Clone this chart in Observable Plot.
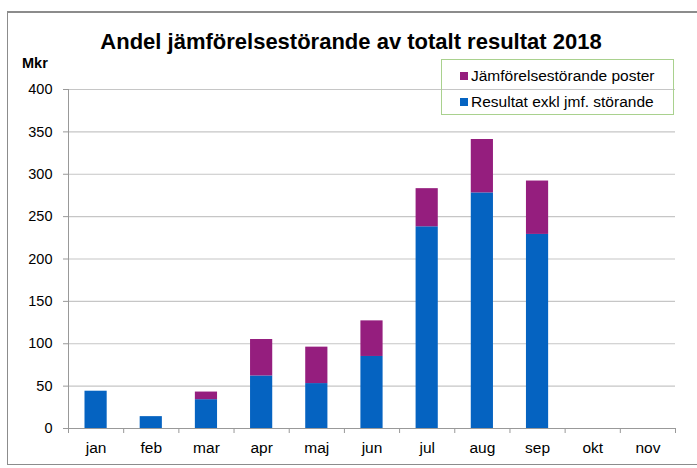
<!DOCTYPE html>
<html>
<head>
<meta charset="utf-8">
<script src="https://cdn.jsdelivr.net/npm/d3@7"></script>
<script src="https://cdn.jsdelivr.net/npm/@observablehq/plot@0.6"></script>
<style>
  html, body { margin: 0; padding: 0; background: #fff; }
  #wrap { position: relative; width: 697px; height: 468px; overflow: hidden; font-family: "Liberation Sans", Arial, sans-serif; }
  #frame { position: absolute; left: 7px; top: 11px; width: 697px; height: 454px; border: 1px solid #8c8c8c; border-top-width: 2px; box-sizing: border-box; }
  #title { position: absolute; left: 0; width: 702px; top: 29px; line-height: 25px; text-align: center; font-weight: bold; font-size: 22px; color: #000; }
  #unit { position: absolute; left: 22px; top: 55px; font-weight: bold; font-size: 14.5px; color: #000; }
  #legend { position: absolute; left: 441px; top: 59px; width: 233px; height: 56px; border: 1px solid #a9d18e; box-sizing: border-box; background: transparent; font-size: 15.5px; color: #000; }
  .row { position: absolute; left: 18px; height: 18px; line-height: 18px; display: flex; align-items: center; white-space: nowrap; }
  .sw { width: 8px; height: 8px; margin-right: 3px; }
  #chart { position: absolute; left: 0; top: 0; }
</style>
</head>
<body>
<div id="wrap">
  <div id="frame"></div>
  <div id="chart"></div>
  <div id="title">Andel jämförelsestörande av totalt resultat 2018</div>
  <div id="unit">Mkr</div>
  <div id="legend"></div>
</div>
<script>
const months = ["jan","feb","mar","apr","maj","jun","jul","aug","sep","okt","nov"];
const resultat = [44, 14, 34, 62, 53, 85, 238, 278, 229, 0, 0];
const jmf = [0, 0, 9, 43, 43, 42, 45, 63, 63, 0, 0];
const seriesNames = ["Jämförelsestörande poster", "Resultat exkl jmf. störande"];
const seriesColors = ["#951e7e", "#0563c1"];
const yTicks = [0, 50, 100, 150, 200, 250, 300, 350, 400];

const rows = [];
months.forEach((m, i) => {
  rows.push({i, month: m, series: seriesNames[1], y1: 0, y2: resultat[i]});
  rows.push({i, month: m, series: seriesNames[0], y1: resultat[i], y2: resultat[i] + jmf[i]});
});
const bars = rows.filter(d => d.y2 > d.y1);
const boundaries = d3.range(months.length + 1);
const centers = months.map((m, i) => i + 0.5);

const plot = Plot.plot({
  width: 697,
  height: 468,
  marginLeft: 68,
  marginRight: 22,
  marginTop: 89,
  marginBottom: 40,
  style: { fontFamily: "Liberation Sans, Arial, sans-serif", fontSize: "14px", color: "#000", background: "transparent", overflow: "visible" },
  x: { domain: [0, months.length], axis: null },
  y: { domain: [0, 400], axis: null },
  color: { domain: seriesNames, range: seriesColors },
  marks: [
    Plot.ruleY(yTicks.filter(v => v > 0), { stroke: "#c6c6c6", strokeWidth: 1.2 }),
    Plot.rectY(bars, { x1: d => d.i, x2: d => d.i + 1, y1: "y1", y2: "y2", fill: "series", insetLeft: 16.5, insetRight: 16.5 }),
    Plot.axisY({ ticks: yTicks, tickSize: 5, tickPadding: 11, stroke: "#999", fontSize: 14.5, label: null }),
    Plot.axisX({ ticks: boundaries, tickSize: 5, tickFormat: () => "", stroke: "#999", label: null }),
    Plot.axisX({ ticks: centers, tickSize: 0, tickPadding: 13, tickFormat: (d) => months[Math.floor(d)], fontSize: 15.5, label: null }),
    Plot.ruleX([0], { y1: 0, y2: 400, stroke: "#999" }),
    Plot.ruleY([0], { stroke: "#999" })
  ]
});
document.getElementById("chart").appendChild(plot);

const legend = document.getElementById("legend");
seriesNames.forEach((name, k) => {
  const r = document.createElement("div");
  r.className = "row";
  r.style.top = (k === 0 ? 7 : 33) + "px";
  const sw = document.createElement("span");
  sw.className = "sw";
  sw.style.background = seriesColors[k];
  const t = document.createElement("span");
  t.textContent = name;
  r.appendChild(sw); r.appendChild(t);
  legend.appendChild(r);
});
</script>
</body>
</html>
